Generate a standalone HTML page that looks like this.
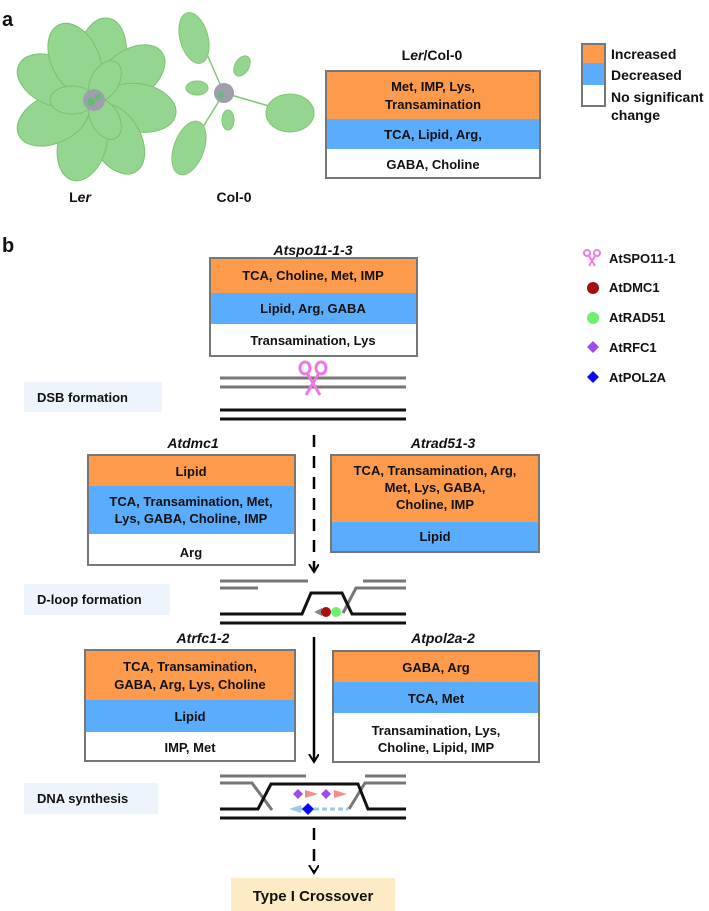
<!DOCTYPE html>
<html><head><meta charset="utf-8"><style>
body{margin:0;background:#fff}
svg{display:block}
text{font-family:"Liberation Sans",Arial,sans-serif;font-weight:bold;fill:#111}
</style></head><body>
<svg width="709" height="911" viewBox="0 0 709 911" xmlns="http://www.w3.org/2000/svg">
<defs>
<marker id="ah" markerWidth="10" markerHeight="12" refX="8" refY="5" orient="auto" markerUnits="userSpaceOnUse">
<path d="M0,0 L8,5 L0,10" fill="none" stroke="#000" stroke-width="2"/></marker>
</defs>
<text x="2" y="26" font-size="20">a</text>
<g fill="#8fd48a" stroke="#6fbf6a" stroke-width="1" opacity="0.95">
<g transform="translate(94,100)">
<ellipse cx="0" cy="-45" rx="24" ry="38" transform="rotate(10)"/>
<ellipse cx="0" cy="-45" rx="24" ry="38" transform="rotate(55)"/>
<ellipse cx="0" cy="-45" rx="24" ry="38" transform="rotate(100)"/>
<ellipse cx="0" cy="-45" rx="24" ry="38" transform="rotate(150)"/>
<ellipse cx="0" cy="-45" rx="24" ry="38" transform="rotate(195)"/>
<ellipse cx="0" cy="-45" rx="24" ry="38" transform="rotate(245)"/>
<ellipse cx="0" cy="-45" rx="24" ry="38" transform="rotate(295)"/>
<ellipse cx="0" cy="-45" rx="24" ry="38" transform="rotate(335)"/>
<ellipse cx="0" cy="-22" rx="14" ry="22" transform="rotate(30)"/>
<ellipse cx="0" cy="-22" rx="14" ry="22" transform="rotate(150)"/>
<ellipse cx="0" cy="-22" rx="14" ry="22" transform="rotate(270)"/>
<circle r="11" fill="#9a9aa8" stroke="none"/>
<circle cx="-3" cy="2" r="4" fill="#5cb870" stroke="none"/>
<circle cx="4" cy="-3" r="3" fill="#5cb870" stroke="none"/>
</g>
<g transform="translate(224,93)" stroke="#7cc46f">
<line x1="0" y1="0" x2="-22" y2="-50" stroke-width="1.5"/>
<line x1="0" y1="0" x2="45" y2="13" stroke-width="1.5"/>
<line x1="0" y1="0" x2="-28" y2="45" stroke-width="1.5"/>
<ellipse cx="-30" cy="-55" rx="14" ry="26" transform="rotate(-15 -30 -55)"/>
<ellipse cx="66" cy="20" rx="24" ry="19"/>
<ellipse cx="-35" cy="55" rx="15" ry="28" transform="rotate(20 -35 55)"/>
<ellipse cx="-27" cy="-5" rx="11" ry="7"/>
<ellipse cx="18" cy="-27" rx="7" ry="11" transform="rotate(30 18 -27)"/>
<ellipse cx="4" cy="27" rx="6" ry="10"/>
<circle r="10" fill="#9a9aa8" stroke="none"/>
<circle cx="-3" cy="2" r="3" fill="#5cb870" stroke="none"/>
</g>
</g>
<text x="80" y="202" font-size="14" text-anchor="middle">L<tspan font-style="italic">er</tspan></text>
<text x="234" y="202" font-size="14" text-anchor="middle">Col-0</text>
<text x="432" y="60" font-size="14" text-anchor="middle">L<tspan font-style="italic">er</tspan>/Col-0</text>
<rect x="326" y="71" width="214" height="48" fill="#fd9a4c"/>
<rect x="326" y="119" width="214" height="30" fill="#5aacfd"/>
<rect x="326" y="71" width="214" height="107" fill="none" stroke="#777" stroke-width="2"/>
<g font-size="13" text-anchor="middle">
<text x="433" y="91">Met, IMP, Lys,</text><text x="433" y="109">Transamination</text>
<text x="433" y="139">TCA, Lipid, Arg,</text>
<text x="433" y="169">GABA, Choline</text></g>
<rect x="582" y="44" width="23" height="19" fill="#fd9a4c"/>
<rect x="582" y="63" width="23" height="22" fill="#5aacfd"/>
<rect x="582" y="44" width="23" height="62" fill="none" stroke="#777" stroke-width="2"/>
<g font-size="14"><text x="611" y="59">Increased</text><text x="611" y="80">Decreased</text>
<text x="611" y="102">No significant</text><text x="611" y="120">change</text></g>

<text x="2" y="252" font-size="20">b</text>
<text x="313" y="255" font-size="14" font-style="italic" text-anchor="middle">Atspo11-1-3</text>
<rect x="210" y="258" width="207" height="35" fill="#fd9a4c"/>
<rect x="210" y="293" width="207" height="31" fill="#5aacfd"/>
<rect x="210" y="258" width="207" height="98" fill="none" stroke="#777" stroke-width="2"/>
<g font-size="13" text-anchor="middle">
<text x="313" y="280">TCA, Choline, Met, IMP</text>
<text x="313" y="313">Lipid, Arg, GABA</text>
<text x="313" y="345">Transamination,  Lys</text></g>

<g font-size="13">
<text x="609" y="263">AtSPO11-1</text><text x="609" y="292">AtDMC1</text>
<text x="609" y="322">AtRAD51</text><text x="609" y="352">AtRFC1</text><text x="609" y="382">AtPOL2A</text></g>
<g stroke="#f07ae8" stroke-width="2" fill="none">
<circle cx="587" cy="253" r="3"/><circle cx="597" cy="253" r="3"/>
<line x1="589" y1="256" x2="595" y2="266"/><line x1="595" y1="256" x2="589" y2="266"/></g>
<circle cx="593" cy="288" r="6" fill="#a31010"/>
<circle cx="593" cy="318" r="6" fill="#6fef6f"/>
<path d="M593,341 l6,6 l-6,6 l-6,-6z" fill="#9a4cf2"/>
<path d="M593,371 l6,6 l-6,6 l-6,-6z" fill="#0a0af0"/>

<rect x="24" y="382" width="138" height="30" fill="#edf4fb"/>
<text x="37" y="402" font-size="13">DSB formation</text>
<g stroke="#777" stroke-width="3"><line x1="220" y1="378" x2="406" y2="378"/><line x1="220" y1="387" x2="406" y2="387"/></g>
<g stroke="#e87ae0" stroke-width="3" fill="none">
<ellipse cx="305" cy="368" rx="5" ry="6"/><ellipse cx="321" cy="368" rx="5" ry="6"/>
<line x1="307" y1="373" x2="320" y2="395"/><line x1="319" y1="373" x2="306" y2="395"/></g>
<g stroke="#111" stroke-width="3"><line x1="220" y1="410" x2="406" y2="410"/><line x1="220" y1="419" x2="406" y2="419"/></g>

<line x1="314" y1="435" x2="314" y2="572" stroke="#000" stroke-width="2.5" stroke-dasharray="12,9" marker-end="url(#ah)"/>

<text x="193" y="448" font-size="14" font-style="italic" text-anchor="middle">Atdmc1</text>
<rect x="88" y="455" width="207" height="31" fill="#fd9a4c"/>
<rect x="88" y="486" width="207" height="48" fill="#5aacfd"/>
<rect x="88" y="455" width="207" height="110" fill="none" stroke="#777" stroke-width="2"/>
<g font-size="13" text-anchor="middle">
<text x="191" y="476">Lipid</text>
<text x="191" y="506">TCA, Transamination, Met,</text>
<text x="191" y="523">Lys, GABA, Choline, IMP</text>
<text x="191" y="557">Arg</text></g>

<text x="443" y="448" font-size="14" font-style="italic" text-anchor="middle">Atrad51-3</text>
<rect x="331" y="455" width="208" height="67" fill="#fd9a4c"/>
<rect x="331" y="522" width="208" height="30" fill="#5aacfd"/>
<rect x="331" y="455" width="208" height="97" fill="none" stroke="#777" stroke-width="2"/>
<g font-size="13" text-anchor="middle">
<text x="435" y="475">TCA, Transamination, Arg,</text>
<text x="435" y="492">Met, Lys, GABA,</text>
<text x="435" y="509">Choline,  IMP</text>
<text x="435" y="541">Lipid</text></g>

<rect x="24" y="584" width="146" height="31" fill="#edf4fb"/>
<text x="37" y="604" font-size="13">D-loop formation</text>
<g stroke="#777" stroke-width="3" fill="none">
<line x1="220" y1="581" x2="308" y2="581"/><line x1="363" y1="581" x2="406" y2="581"/>
<line x1="220" y1="588" x2="258" y2="588"/>
<polyline points="406,588 356,588 343,613"/></g>
<g stroke="#111" stroke-width="3" fill="none">
<polyline points="220,614 302,614 311,593 342,593 352,614 406,614"/>
<line x1="220" y1="623" x2="406" y2="623"/></g>
<path d="M314,612 l8,-4 l0,8z" fill="#888"/>
<circle cx="326" cy="612" r="5" fill="#a31010"/>
<circle cx="336" cy="612" r="5" fill="#6fef6f"/>

<line x1="314" y1="637" x2="314" y2="762" stroke="#000" stroke-width="2.5" marker-end="url(#ah)"/>

<text x="203" y="643" font-size="14" font-style="italic" text-anchor="middle">Atrfc1-2</text>
<rect x="85" y="650" width="210" height="50" fill="#fd9a4c"/>
<rect x="85" y="700" width="210" height="32" fill="#5aacfd"/>
<rect x="85" y="650" width="210" height="111" fill="none" stroke="#777" stroke-width="2"/>
<g font-size="13" text-anchor="middle">
<text x="190" y="671">TCA,  Transamination,</text>
<text x="190" y="689">GABA, Arg, Lys, Choline</text>
<text x="190" y="721">Lipid</text>
<text x="190" y="752">IMP, Met</text></g>

<text x="443" y="643" font-size="14" font-style="italic" text-anchor="middle">Atpol2a-2</text>
<rect x="333" y="651" width="206" height="31" fill="#fd9a4c"/>
<rect x="333" y="682" width="206" height="31" fill="#5aacfd"/>
<rect x="333" y="651" width="206" height="111" fill="none" stroke="#777" stroke-width="2"/>
<g font-size="13" text-anchor="middle">
<text x="436" y="672">GABA, Arg</text>
<text x="436" y="703">TCA, Met</text>
<text x="436" y="735">Transamination,  Lys,</text>
<text x="436" y="752">Choline, Lipid, IMP</text></g>

<rect x="24" y="783" width="134" height="31" fill="#edf4fb"/>
<text x="37" y="803" font-size="13">DNA synthesis</text>
<g stroke="#777" stroke-width="3" fill="none">
<line x1="220" y1="776" x2="306" y2="776"/><line x1="365" y1="776" x2="406" y2="776"/>
<polyline points="220,783 252,783 272,810"/>
<polyline points="406,783 365,783 349,809"/></g>
<g stroke="#111" stroke-width="3" fill="none">
<polyline points="220,809 258,809 271,784 358,784 368,809 406,809"/>
<line x1="220" y1="818" x2="406" y2="818"/></g>
<path d="M305,790 l13,4 l-13,4z" fill="#f88a8a"/>
<path d="M334,790 l13,4 l-13,4z" fill="#f88a8a"/>
<path d="M298,789 l5,5 l-5,5 l-5,-5z" fill="#9a4cf2"/>
<path d="M326,789 l5,5 l-5,5 l-5,-5z" fill="#9a4cf2"/>
<line x1="298" y1="809" x2="348" y2="809" stroke="#9cc6ee" stroke-width="3" stroke-dasharray="5,3"/>
<path d="M289,809 l12,-4 l0,8z" fill="#9cc6ee"/>
<path d="M308,803 l6,6 l-6,6 l-6,-6z" fill="#0a0af0"/>

<line x1="314" y1="828" x2="314" y2="873" stroke="#000" stroke-width="2.5" stroke-dasharray="12,9" marker-end="url(#ah)"/>
<rect x="231" y="878" width="164" height="33" fill="#fdebc6"/>
<text x="313" y="901" font-size="15" text-anchor="middle">Type I Crossover</text>
</svg>
</body></html>
